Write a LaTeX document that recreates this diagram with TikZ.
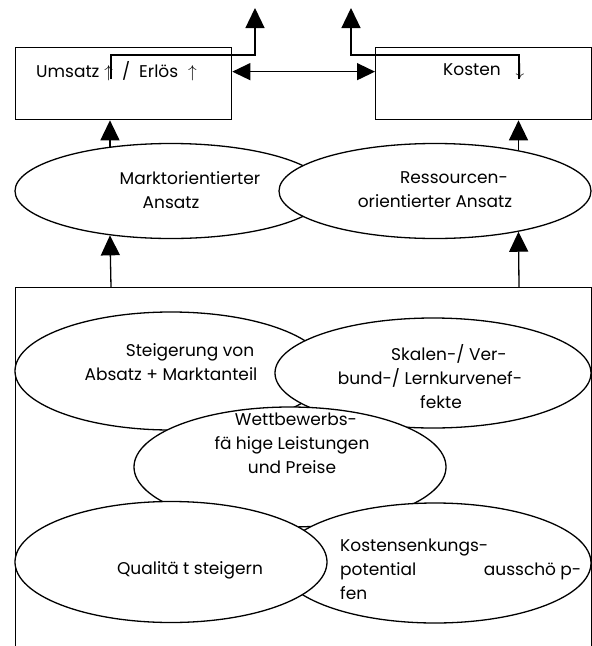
\documentclass[tikz,border=0pt]{standalone}
\usepackage{fontspec}
\setmainfont{Poppins}
\usetikzlibrary{shapes.geometric,arrows.meta,positioning}

\newcommand{\einzug}{\hspace*{38pt}}
\newcommand{\luecke}{\hspace{0.25em}}

\tikzset{
  box/.style={draw, line width=1.3pt, rectangle, minimum width=216pt, minimum height=72pt, inner sep=0pt, anchor=north west},
  blob/.style={draw, line width=1.3pt, ellipse, fill=white, minimum width=312pt, inner sep=0pt},
  txt/.style={font=\fontsize{17}{24}\selectfont, align=center, inner sep=0pt},
  tri/.style={-{Triangle[length=20pt,width=19pt]}, line width=1.3pt},
  dbltri/.style={{Triangle[length=18pt,width=17pt]}-{Triangle[length=18pt,width=17pt]}, line width=1.3pt},
}

\begin{document}
\begin{tikzpicture}[x=1pt, y=-1pt]
  \useasboundingbox (0,0) rectangle (592,646);

  % Zielgroessen oben
  \node[box] (umsatz) at (15,47) {};
  \node[box] (kosten) at (375,47) {};
  \node[txt, anchor=west] (tumsatz) at (36,71) {Umsatz\hspace{5pt}$\uparrow$\hspace{9pt}/\hspace{9pt}Erlös\hspace{10pt}$\uparrow$};
  \node[txt, anchor=west] (tkosten) at (443,71) {Kosten\hspace{15pt}$\downarrow$};
  \draw[dbltri] ([yshift=12pt]umsatz.east) -- ([yshift=12pt]kosten.west);

  % Ausgaenge nach oben
  \coordinate (pfA) at (111,79);
  \coordinate (pfB) at (519,79);
  \coordinate (ausA) at (255,8);
  \coordinate (ausB) at (351,8);
  \draw[tri] (pfA) -- ++(0,-24) -| (ausA);
  \draw[tri] (pfB) -- ++(0,-24) -| (ausB);

  % Ansaetze
  \node[blob, minimum height=95pt] (markt) at (171,191) {};
  \node[txt] (tmarkt) at (171,190) {\einzug Marktorientierter\\Ansatz};
  \node[blob, minimum height=95pt] (ress) at (435,191) {};
  \node[txt] (tress) at (435,190) {\einzug Ressourcen-\\orientierter Ansatz};
  \draw[tri] (markt.144) -- (markt.144 |- umsatz.south);
  \draw[tri] (ress.26) -- (ress.26 |- kosten.south);

  % Massnahmen
  \node[draw, line width=1.3pt, minimum width=576pt, minimum height=380pt, inner sep=0pt, anchor=north west] (basis) at (15,287) {};
  \draw[tri] (basis.north -| pfA) -- (markt.216);
  \draw[tri] (basis.north -| pfB) -- (ress.-26);

  \node[blob, minimum height=118pt] (steig) at (171,371) {};
  \node[txt] (tsteig) at (171,362) {\einzug Steigerung von\\Absatz + Marktanteil};
  \node[blob, minimum width=316pt, minimum height=110pt] (skalen) at (433,373) {};
  \node[txt] (tskalen) at (430,377) {\einzug Skalen-/ Ver-\\bund-/ Lernkurvenef-\\\hspace*{22pt}fekte};
  \node[blob, minimum height=120pt] (wett) at (290,467) {};
  \node[txt] (twett) at (292,443) {\hspace*{8pt}Wettbewerbs-\\fä\luecke hige Leistungen\\und Preise};
  \node[blob, minimum height=120pt] (senk) at (435,563) {};
  \node[txt, text width=241pt, align=left, anchor=west] (tsenk) at (340,569) {Kostensenkungs-\\potential\hfill ausschö\luecke p-\\fen};
  \node[blob, minimum height=121pt] (qual) at (171,562) {};
  \node[txt] (tqual) at (171,570) {\einzug Qualitä\luecke t steigern};
\end{tikzpicture}
\end{document}
